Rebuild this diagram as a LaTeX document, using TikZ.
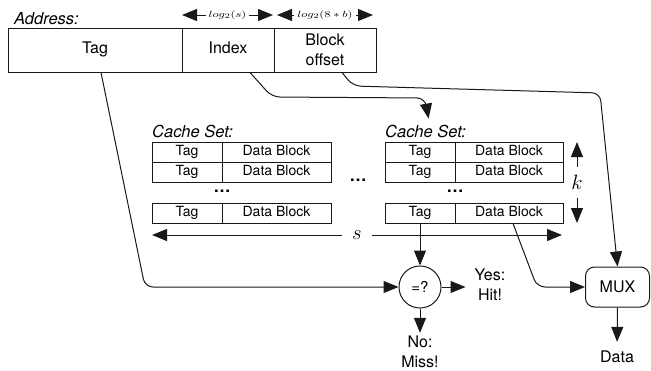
\documentclass[tikz,border=0pt]{standalone}
\usepackage{fontspec}
\setmainfont{TeX Gyre Heros}
\usetikzlibrary{arrows.meta,calc}
\begin{document}
\begin{tikzpicture}[x=1pt,y=-1pt,
  every node/.style={inner sep=0pt},
  ln/.style={line width=1pt, draw=black!90},
  abox/.style={draw=black!90, line width=1pt, minimum height=44pt, font=\fontsize{16}{19}\selectfont, align=center},
  cell/.style={draw=black!90, line width=0.9pt, minimum height=20pt, font=\fontsize{14}{15}\selectfont, text height=1.5ex, text depth=.25ex},
  lbl/.style={font=\fontsize{16.5}{19}\selectfont\itshape, anchor=west},
  txt/.style={font=\fontsize{16}{20}\selectfont, align=center},
  dots/.style={font=\fontsize{17}{18}\selectfont\bfseries},
  arr/.style={ln, -{Triangle[length=15pt,width=12pt]}},
  darr/.style={ln, {Triangle[length=15pt,width=12pt]}-{Triangle[length=15pt,width=12pt]}},
]
\useasboundingbox (0,0) rectangle (651,370);

% address
\node[lbl] (addr) at (14,18.5) {Address:};
\node[abox, minimum width=174pt, text height=1.5ex, text depth=.25ex] (tagA) at (95,50) {Tag};
\node[abox, minimum width=92pt, text height=1.5ex, text depth=.25ex] (idxA) at (228,50) {Index};
\node[abox, minimum width=102pt, font=\fontsize{16}{20}\selectfont] (offA) at (325,50) {Block\\offset};

% field widths
\coordinate (l1a) at (182,15);
\coordinate (l1b) at (273,15);
\coordinate (l2a) at (277,15);
\coordinate (l2b) at (373,15);
\draw[darr] (l1a) -- (l1b) node[midway, fill=white, inner xsep=3pt, inner ysep=2pt] {\scalebox{1.35}[1]{\fontsize{9.5}{10}\selectfont$log_2(s)$}};
\draw[darr] (l2a) -- (l2b) node[midway, fill=white, inner xsep=3pt, inner ysep=2pt] {\scalebox{1.35}[1]{\fontsize{9.5}{10}\selectfont$log_2(8*b)$}};

% cache sets
\node[lbl] (csL) at (152,131) {Cache Set:};
\node[lbl] (csR) at (385,131) {Cache Set:};

\foreach \n/\y in {1/152,2/172,3/213}{
  \node[cell, minimum width=70pt] (lt\n) at (187,\y) {Tag};
  \node[cell, minimum width=109pt] (ld\n) at (276.5,\y) {Data Block};
  \node[cell, minimum width=70pt] (rt\n) at (420,\y) {Tag};
  \node[cell, minimum width=108pt] (rd\n) at (509,\y) {Data Block};
}
\node[dots] (dl) at (222,191) {\ldots};
\node[dots] (dr) at (455,191) {\ldots};
\node[dots] (dm) at (358,180) {\ldots};

% s and k
\coordinate (sL) at (152,235);
\coordinate (sR) at (562,235);
\draw[darr] (sL) -- (sR) node[midway, fill=white, inner xsep=10pt, inner ysep=2pt] {\fontsize{20}{20}\selectfont$s$};
\coordinate (kT) at (577,142);
\coordinate (kB) at (577,223);
\draw[darr] (kT) -- (kB) node[midway, fill=white, inner ysep=8pt, inner xsep=2pt] {\fontsize{20}{20}\selectfont$k$};

% comparator and mux
\node[draw=black!90, line width=1pt, circle, minimum size=42pt, font=\fontsize{15}{17}\selectfont] (eq) at (420,287) {=?};
\node[txt] (yes) at (490,285) {Yes:\\Hit!};
\node[txt] (no) at (420,352) {No:\\Miss!};
\node[draw=black!90, line width=1pt, rounded corners=9pt, minimum width=64pt, minimum height=40pt, font=\fontsize{16}{18}\selectfont] (mux) at (617.5,287) {MUX};
\node[txt] (data) at (617,357) {Data};

\draw[arr] (rt3.south) -- (eq.north);
\draw[arr, shorten >=9pt] (eq.east) -- (eq.east -| yes.west);
\draw[arr, shorten >=3pt] (eq.south) -- (no.north);
\draw[arr, shorten >=9pt] (mux.south) -- (data.north);

\draw[arr, rounded corners=8pt] ([xshift=6pt]tagA.south) -- (145,287) -- (eq.west);
\draw[arr, rounded corners=8pt, shorten >=6pt] ([xshift=22pt]idxA.south) -- (272,97) -- (425,98) -- ([xshift=4pt]csR.north);
\draw[arr, rounded corners=8pt] ([xshift=17pt]offA.south) -- (353,86) -- (600,93) -- (mux.north);
\draw[arr, rounded corners=8pt] ([xshift=4pt]rd3.south) -- (537,287) -- (mux.west);
\end{tikzpicture}
\end{document}
